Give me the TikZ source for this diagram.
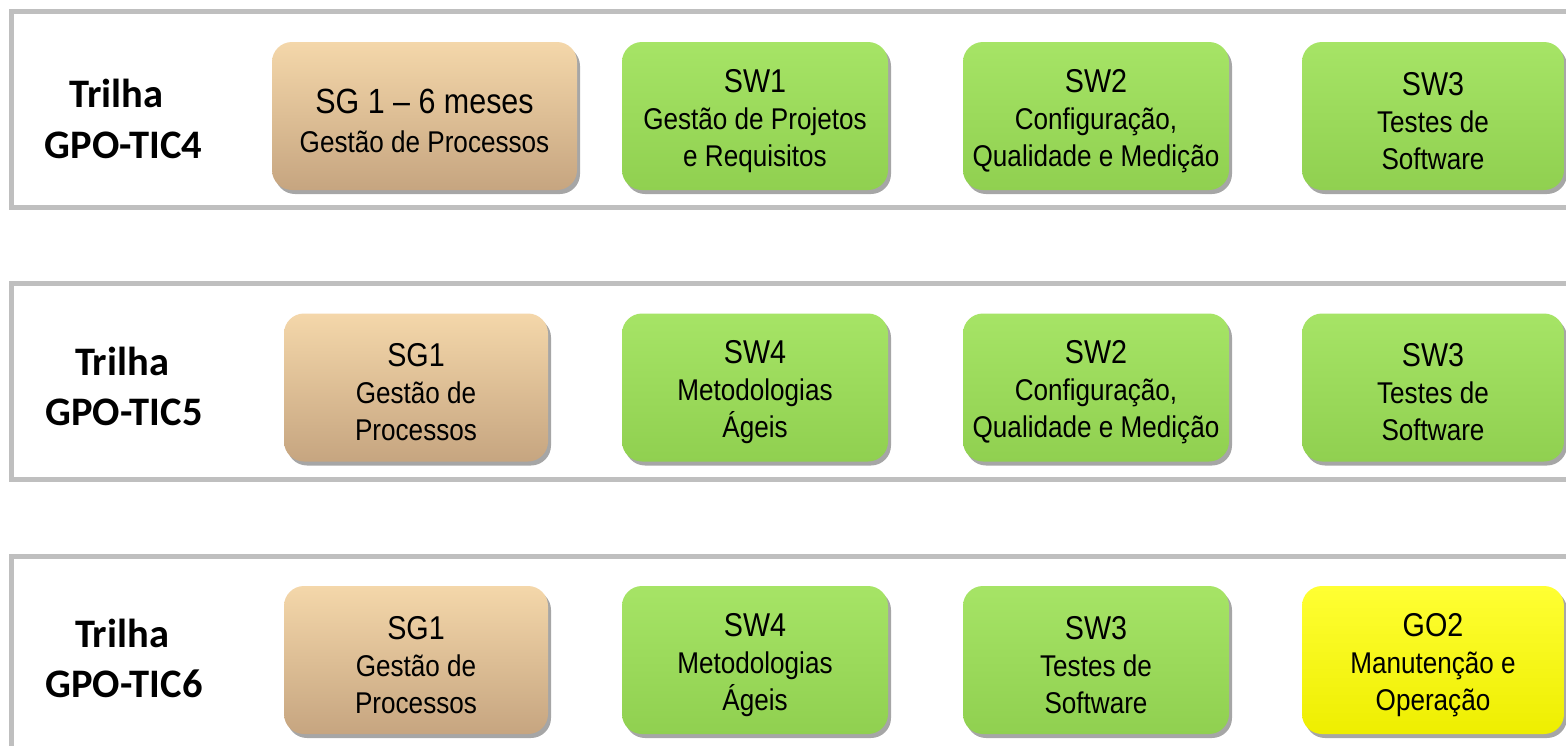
\documentclass[tikz,border=0pt]{standalone}
\usepackage{fontspec}
\setmainfont[FakeStretch=0.87]{Liberation Sans}
\newfontfamily\labfont{Carlito}
\usetikzlibrary{shadows}
\definecolor{panelgray}{HTML}{BFBFBF}
\definecolor{tantop}{HTML}{F4D7AA}
\definecolor{tanbot}{HTML}{C6A580}
\definecolor{greentop}{HTML}{A6E466}
\definecolor{greenbot}{HTML}{90D050}
\definecolor{yeltop}{HTML}{FFFF33}
\definecolor{yelbot}{HTML}{EEEE00}
\begin{document}
\begin{tikzpicture}[x=1pt,y=-1pt,
  panel/.style={draw=panelgray, line width=5pt, fill=white},
  box/.style={rounded corners=20pt, minimum height=148pt, inner sep=0pt,
    drop shadow={shadow xshift=3pt, shadow yshift=-4pt, opacity=0.35, fill=black}},
  tanbox/.style={box, top color=tantop, bottom color=tanbot},
  greenbox/.style={box, top color=greentop, bottom color=greenbot},
  yellowbox/.style={box, top color=yeltop, bottom color=yelbot},
  boxtext/.style={align=center, inner sep=0pt, font=\fontsize{30}{37}\selectfont, yshift=-5pt},
  lab/.style={font=\labfont\bfseries\fontsize{40.5}{50}\selectfont, inner sep=0pt}
]
\useasboundingbox (0,0) rectangle (1566,745);
\clip (0,0) rectangle (1566,745);
\fill[white] (0,0) rectangle (1566,745);

% panels
\draw[panel] (11,11) rectangle (1600,207);
\draw[panel] (11,283) rectangle (1600,479);
\draw[panel] (11,556) rectangle (1600,790);

% labels
\node[lab, anchor=base] (l1a) at (116.5,107) {Trilha};
\node[lab, anchor=base] (l1b) at (123.5,158) {GPO-TIC4};
\node[lab, anchor=base] (l2a) at (122,375) {Trilha};
\node[lab, anchor=base] (l2b) at (124,425) {GPO-TIC5};
\node[lab, anchor=base] (l3a) at (122,647) {Trilha};
\node[lab, anchor=base] (l3b) at (124,697) {GPO-TIC6};

% row 1
\node[tanbox, minimum width=305pt] (r1c1) at (424.5,116) {};
\node[greenbox, minimum width=266pt] (r1c2) at (755,116) {};
\node[greenbox, minimum width=266pt] (r1c3) at (1096,116) {};
\node[greenbox, minimum width=262pt] (r1c4) at (1433,116) {};
% row 2
\node[tanbox, minimum width=264pt] (r2c1) at (416,387.5) {};
\node[greenbox, minimum width=266pt] (r2c2) at (755,387.5) {};
\node[greenbox, minimum width=266pt] (r2c3) at (1096,387.5) {};
\node[greenbox, minimum width=262pt] (r2c4) at (1433,387.5) {};
% row 3
\node[tanbox, minimum width=264pt] (r3c1) at (416,660) {};
\node[greenbox, minimum width=266pt] (r3c2) at (755,660) {};
\node[greenbox, minimum width=266pt] (r3c3) at (1096,660) {};
\node[yellowbox, minimum width=262pt] (r3c4) at (1433,660) {};

% texts
\node[boxtext] (t11) at (r1c1.center) {{\fontsize{35}{40}\selectfont SG 1 – 6 meses}\\[2pt] Gestão de Processos};
\node[boxtext] (t12) at (r1c2.center) {{\fontsize{33}{40}\selectfont SW1}\\ Gestão de Projetos\\ e Requisitos};
\node[boxtext] (t13) at (r1c3.center) {{\fontsize{33}{40}\selectfont SW2}\\ Configuração,\\ Qualidade e Medição};
\node[boxtext] (t14) at (r1c4.center) {{\fontsize{33}{40}\selectfont SW3}\\ Testes de\\ Software};

\node[boxtext] (t21) at (r2c1.center) {{\fontsize{33}{40}\selectfont SG1}\\ Gestão de\\ Processos};
\node[boxtext] (t22) at (r2c2.center) {{\fontsize{33}{40}\selectfont SW4}\\ Metodologias\\ Ágeis};
\node[boxtext] (t23) at (r2c3.center) {{\fontsize{33}{40}\selectfont SW2}\\ Configuração,\\ Qualidade e Medição};
\node[boxtext] (t24) at (r2c4.center) {{\fontsize{33}{40}\selectfont SW3}\\ Testes de\\ Software};

\node[boxtext] (t31) at (r3c1.center) {{\fontsize{33}{40}\selectfont SG1}\\ Gestão de\\ Processos};
\node[boxtext] (t32) at (r3c2.center) {{\fontsize{33}{40}\selectfont SW4}\\ Metodologias\\ Ágeis};
\node[boxtext] (t33) at (r3c3.center) {{\fontsize{33}{40}\selectfont SW3}\\ Testes de\\ Software};
\node[boxtext] (t34) at (r3c4.center) {{\fontsize{33}{40}\selectfont GO2}\\ Manutenção e\\ Operação};
\end{tikzpicture}
\end{document}
